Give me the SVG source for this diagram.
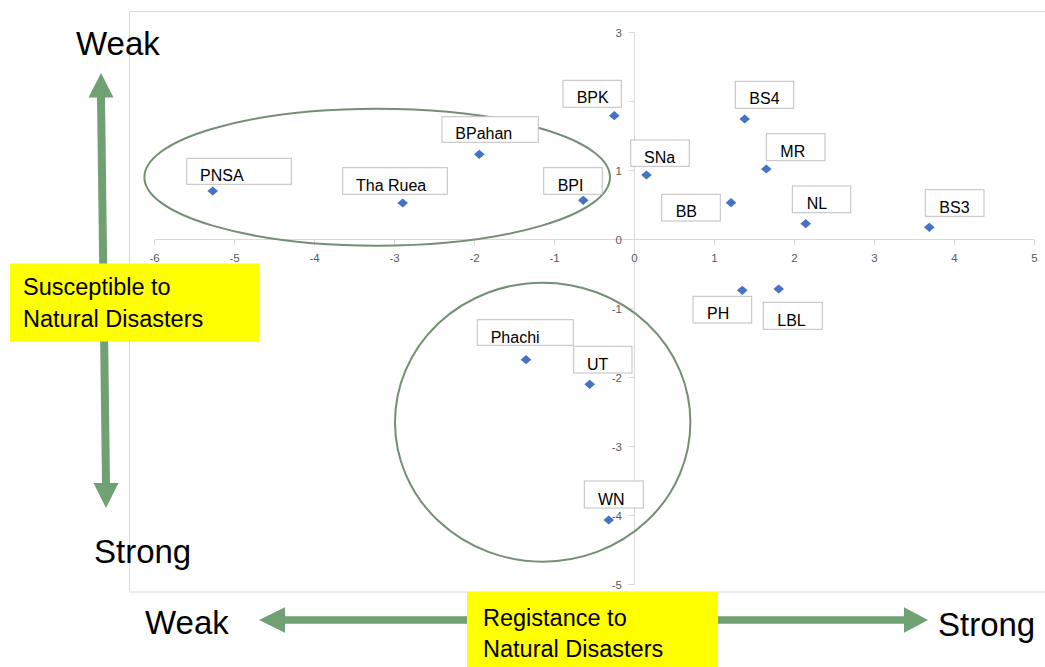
<svg xmlns="http://www.w3.org/2000/svg" width="1045" height="667" viewBox="0 0 1045 667">
<style>
.ax{stroke:#d9d9d9;stroke-width:1;fill:none}
.tk{font-family:"Liberation Sans",Arial,sans-serif;font-size:11.5px;fill:#595959}
.tx{text-anchor:middle}
.ty{text-anchor:end}
.lb{fill:#fff;stroke:#bfbfbf;stroke-width:1}
.lt{font-family:"Liberation Sans",Arial,sans-serif;font-size:16px;fill:#000}
.pt{fill:#4472c4}
.ring{fill:none;stroke:#738f74;stroke-width:2}
.arr{fill:#6fa172}
.big{font-family:"Liberation Sans",Arial,sans-serif;font-size:33px;fill:#000}
.yb{fill:#ffff00}
.yt{font-family:"Liberation Sans",Arial,sans-serif;font-size:23.5px;fill:#000}
</style>
<defs>
<path id="dm" d="M0,-4.6 L5.3,0 L0,4.6 L-5.3,0 Z"/>
</defs>
<rect width="1045" height="667" fill="#fff"/>
<g id="chart-frame">
<rect class="ax" x="129.5" y="11.5" width="925" height="580.5"/>
</g>
<g id="axes">
<line class="ax" x1="154.5" y1="239.5" x2="1034.5" y2="239.5"/>
<line class="ax" x1="634.5" y1="32.5" x2="634.5" y2="584.5"/>
<g class="ax">
<path d="M154.5,239.5v6M234.5,239.5v6M314.5,239.5v6M394.5,239.5v6M474.5,239.5v6M554.5,239.5v6M634.5,239.5v6M714.5,239.5v6M794.5,239.5v6M874.5,239.5v6M954.5,239.5v6M1034.5,239.5v6"/>
<path d="M628.5,32.5h6M628.5,101.5h6M628.5,170.5h6M628.5,239.5h6M628.5,308.5h6M628.5,377.5h6M628.5,446.5h6M628.5,515.5h6M628.5,584.5h6"/>
</g>
<g class="tk tx">
<text x="154.5" y="262">-6</text><text x="234.5" y="262">-5</text><text x="314.5" y="262">-4</text><text x="394.5" y="262">-3</text><text x="474.5" y="262">-2</text><text x="554.5" y="262">-1</text><text x="634.5" y="262">0</text><text x="714.5" y="262">1</text><text x="794.5" y="262">2</text><text x="874.5" y="262">3</text><text x="954.5" y="262">4</text><text x="1034.5" y="262">5</text>
</g>
<g class="tk ty">
<text x="622" y="37">3</text><text x="622" y="106">2</text><text x="622" y="175">1</text><text x="622" y="244">0</text><text x="622" y="313">-1</text><text x="622" y="382">-2</text><text x="622" y="451">-3</text><text x="622" y="520">-4</text><text x="622" y="589">-5</text>
</g>
</g>
<g id="group-ellipse"><ellipse class="ring" cx="377.2" cy="177.2" rx="232.8" ry="68.5"/></g>
<g id="group-circle"><ellipse class="ring" cx="542.7" cy="422.2" rx="147.7" ry="139.5"/></g>
<g id="node-PNSA"><rect class="lb" x="186.7" y="158.3" width="104.6" height="26"/><text class="lt" x="200" y="181">PNSA</text><use href="#dm" class="pt" x="212.7" y="191"/></g>
<g id="node-ThaRuea"><rect class="lb" x="342.7" y="167.7" width="104.6" height="26.6"/><text class="lt" x="356" y="191">Tha Ruea</text><use href="#dm" class="pt" x="402.7" y="203"/></g>
<g id="node-BPahan"><rect class="lb" x="442" y="116.7" width="96.3" height="25.6"/><text class="lt" x="455.3" y="139">BPahan</text><use href="#dm" class="pt" x="479.3" y="154.3"/></g>
<g id="node-BPK"><rect class="lb" x="563" y="80.3" width="58.3" height="27"/><text class="lt" x="576.7" y="103.3">BPK</text><use href="#dm" class="pt" x="614.3" y="115.7"/></g>
<g id="node-BPI"><rect class="lb" x="543.7" y="167.7" width="58.6" height="26.6"/><text class="lt" x="557.7" y="191">BPI</text><use href="#dm" class="pt" x="583.3" y="200.3"/></g>
<g id="node-SNa"><rect class="lb" x="630.7" y="140" width="58.6" height="26.3"/><text class="lt" x="644" y="162.7">SNa</text><use href="#dm" class="pt" x="646.5" y="175"/></g>
<g id="node-BS4"><rect class="lb" x="735.3" y="81.3" width="58.4" height="27"/><text class="lt" x="749.3" y="104.3">BS4</text><use href="#dm" class="pt" x="744.7" y="119"/></g>
<g id="node-MR"><rect class="lb" x="766.3" y="133.7" width="58.7" height="27"/><text class="lt" x="780.3" y="157">MR</text><use href="#dm" class="pt" x="766.3" y="169"/></g>
<g id="node-BB"><rect class="lb" x="661.7" y="194.3" width="58.6" height="26.7"/><text class="lt" x="675.7" y="217.3">BB</text><use href="#dm" class="pt" x="731" y="202.7"/></g>
<g id="node-NL"><rect class="lb" x="792.3" y="186" width="58.4" height="26.7"/><text class="lt" x="806.7" y="209">NL</text><use href="#dm" class="pt" x="805.7" y="223.7"/></g>
<g id="node-BS3"><rect class="lb" x="925.3" y="189.7" width="58.7" height="26.6"/><text class="lt" x="939.3" y="212.7">BS3</text><use href="#dm" class="pt" x="929.3" y="227.3"/></g>
<g id="node-PH"><rect class="lb" x="693" y="296.3" width="58.7" height="26.7"/><text class="lt" x="707" y="319.3">PH</text><use href="#dm" class="pt" x="742.3" y="290.3"/></g>
<g id="node-LBL"><rect class="lb" x="763.3" y="302.3" width="59" height="27"/><text class="lt" x="777.3" y="325.7">LBL</text><use href="#dm" class="pt" x="778.7" y="289"/></g>
<g id="node-Phachi"><rect class="lb" x="477.3" y="319.7" width="96" height="25.6"/><text class="lt" x="490.7" y="342.7">Phachi</text><use href="#dm" class="pt" x="526" y="359.7"/></g>
<g id="node-UT"><rect class="lb" x="573.7" y="346.3" width="58.3" height="26.7"/><text class="lt" x="587" y="370">UT</text><use href="#dm" class="pt" x="589.7" y="384.3"/></g>
<g id="node-WN"><rect class="lb" x="584.3" y="481" width="59" height="27"/><text class="lt" x="598" y="505">WN</text><use href="#dm" class="pt" x="608.7" y="520"/></g>
<g id="connectors">
<polygon class="arr" points="101,73 113.5,97.5 105,97.5 110,483 118.5,483 106,508 93.5,483 102,483 97,97.5 88.5,97.5"/>
<polygon class="arr" points="259,620 285,607.2 285,616.3 904,616.3 904,607.2 928,620 904,632.8 904,623.7 285,623.7 285,632.8"/>
</g>
<g id="label-y-axis"><rect class="yb" x="10" y="263.5" width="249" height="78"/><text class="yt" x="23" y="295">Susceptible to</text><text class="yt" x="23" y="327">Natural Disasters</text></g>
<g id="label-x-axis"><rect class="yb" x="467" y="592" width="251" height="75"/><text class="yt" x="483" y="626">Registance to</text><text class="yt" x="483" y="657">Natural Disasters</text></g>
<g id="label-weak-top"><text class="big" x="76" y="55">Weak</text></g>
<g id="label-strong-left"><text class="big" x="94" y="563">Strong</text></g>
<g id="label-weak-bottom"><text class="big" x="145" y="634">Weak</text></g>
<g id="label-strong-right"><text class="big" x="938" y="636">Strong</text></g>
</svg>
